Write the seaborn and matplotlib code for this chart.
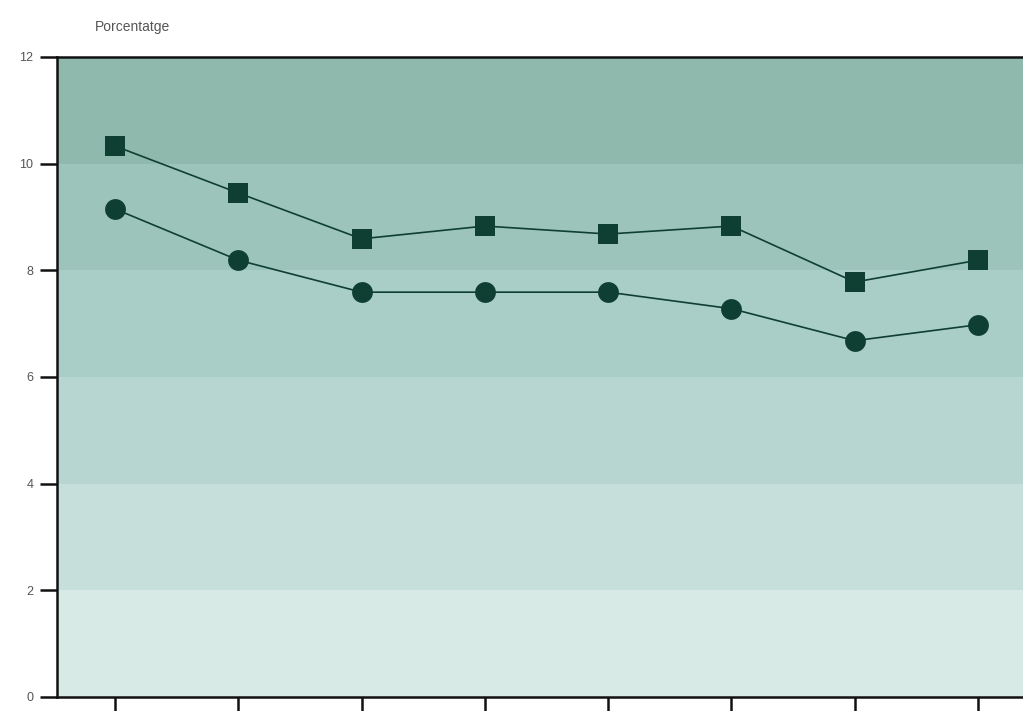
import matplotlib
matplotlib.use("Agg")
import matplotlib.pyplot as plt
import seaborn as sns
import pandas as pd

# data
periods = [0, 1, 2, 3, 4, 5, 6, 7]
serie_a = [10.33, 9.45, 8.59, 8.83, 8.68, 8.83, 7.78, 8.19]   # squares
serie_b = [9.15, 8.19, 7.59, 7.59, 7.59, 7.28, 6.68, 6.98]    # circles
y_ticks = [0, 2, 4, 6, 8, 10, 12]
band_colors = ["#d8eae6", "#c6dfdb", "#b7d6d1", "#a9cdc7", "#9cc4bb", "#8fb9ad"]

df = pd.DataFrame({"x": periods * 2,
                   "y": serie_a + serie_b,
                   "serie": ["a"] * 8 + ["b"] * 8})

sns.set_style("white")
plt.rcParams["font.family"] = ["Liberation Sans", "DejaVu Sans"]

fig = plt.figure(figsize=(10.23, 7.11), dpi=100)
ax = fig.add_axes([0.0557, 0.0197, 0.9727, 0.9002])

# shaded bands behind the lines
for lo, hi, c in zip(y_ticks[:-1], y_ticks[1:], band_colors):
    ax.axhspan(lo, hi, color=c, lw=0, zorder=0)

sns.lineplot(data=df, x="x", y="y", hue="serie", style="serie",
             markers={"a": "s", "b": "o"}, dashes=False,
             palette={"a": "#0f3f33", "b": "#0f3f33"},
             markersize=15, markeredgewidth=0, linewidth=1.2,
             legend=False, ax=ax, zorder=3)

ax.set_xlim(-0.47, 7.6)
ax.set_ylim(0, 12)
ax.set_yticks(y_ticks)
ax.set_xticks(periods)
ax.set_xticklabels([])
ax.set_xlabel("")
ax.set_ylabel("")
ax.tick_params(axis="y", direction="out", length=12, width=1.8, color="#111111",
               labelsize=9, labelcolor="#555555", pad=5, left=True)
ax.tick_params(axis="x", direction="out", length=16, width=1.8, color="#111111",
               bottom=True)
for s in ax.spines.values():
    s.set_color("#111111")
    s.set_linewidth(1.8)

fig.text(95 / 1023, 1 - 27 / 711, "Porcentatge", fontsize=10, color="#555555",
         ha="left", va="center")

fig.savefig("out.png", dpi=100)
